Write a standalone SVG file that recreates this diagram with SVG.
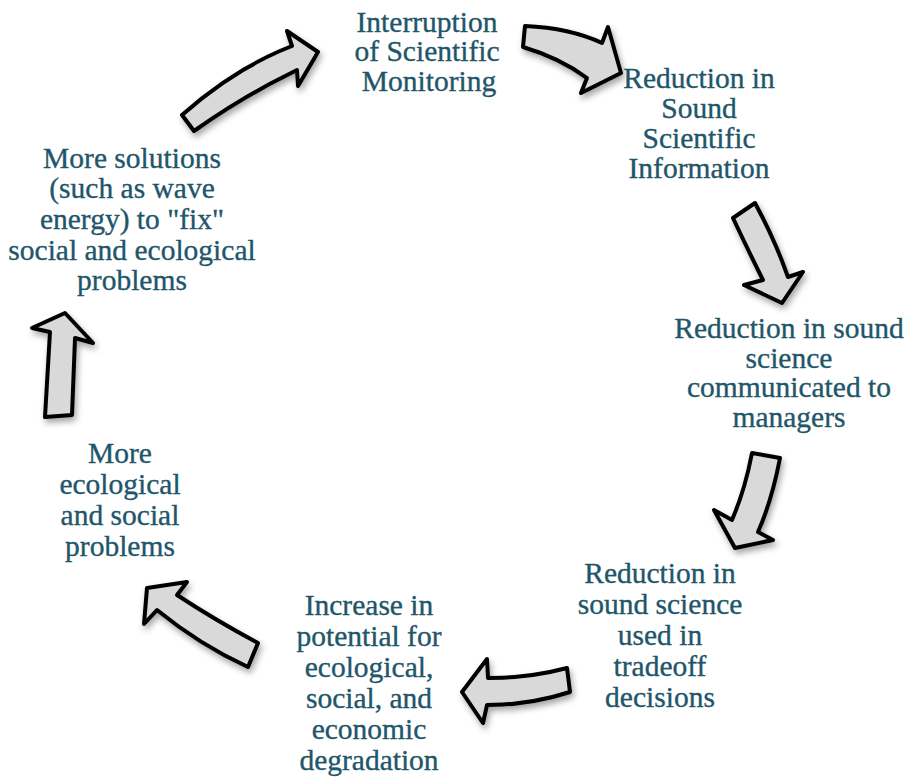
<svg xmlns="http://www.w3.org/2000/svg" width="909" height="779" viewBox="0 0 909 779">
<defs>
<filter id="sh" x="-30%" y="-30%" width="160%" height="160%">
<feDropShadow dx="2" dy="4" stdDeviation="3" flood-color="#000" flood-opacity="0.35"/>
</filter>
</defs>
<style>
.lbl{font-size:29.5px;fill:#1f566a;stroke:#1f566a;stroke-width:0.35;text-anchor:middle}
.arr{fill:#d9d9d9;stroke:#000;stroke-width:4;stroke-linejoin:round;filter:url(#sh)}
</style>
<rect width="909" height="779" fill="#fff"/>
<g id="connectors">
<path class="arr" d="M182,115 Q235,68 292,46 L287,31 L318,52 L298,86 L297,70 Q245,95 194,131 Z"/>
<path class="arr" d="M525,26 Q570,28 602,43 L608,27 L621,73 L581,93 L587,78 Q560,58 523,47 Z"/>
<path class="arr" d="M733,218 L755,203 Q775,240 788,277 L803,272 L782,303 L744,285 L763,280 Q748,250 733,218 Z"/>
<path class="arr" d="M752,453 L780,458 Q772,500 758,532 L773,540 L735,548 L714,510 L732,520 Q745,490 752,453 Z"/>
<path class="arr" d="M567,668 Q530,678 488,678 L487,659 L462,692 L483,723 L487,705 Q530,705 570,692 Z"/>
<path class="arr" d="M258,643 Q215,620 177,595 L187,582 L147,588 L144,624 L157,610 Q200,645 248,667 Z"/>
<path class="arr" d="M45,417 L50,332 L32,328 L65,313 L93,343 L75,338 L72,415 Z"/>
</g>
<g font-family="'Liberation Serif', 'DejaVu Serif', serif">
<g id="n1"><text class="lbl" x="427" y="32">Interruption</text><text class="lbl" x="427" y="61">of Scientific</text><text class="lbl" x="429" y="91">Monitoring</text></g>
<g id="n2"><text class="lbl" x="699" y="88">Reduction in</text><text class="lbl" x="699" y="118">Sound</text><text class="lbl" x="699" y="148">Scientific</text><text class="lbl" x="699" y="178">Information</text></g>
<g id="n3"><text class="lbl" x="789" y="338">Reduction in sound</text><text class="lbl" x="789" y="368">science</text><text class="lbl" x="789" y="397">communicated to</text><text class="lbl" x="789" y="427">managers</text></g>
<g id="n4"><text class="lbl" x="660" y="583">Reduction in</text><text class="lbl" x="660" y="614">sound science</text><text class="lbl" x="660" y="645">used in</text><text class="lbl" x="660" y="676">tradeoff</text><text class="lbl" x="660" y="707">decisions</text></g>
<g id="n5"><text class="lbl" x="369" y="615">Increase in</text><text class="lbl" x="369" y="646">potential for</text><text class="lbl" x="369" y="677">ecological,</text><text class="lbl" x="369" y="708">social, and</text><text class="lbl" x="369" y="739">economic</text><text class="lbl" x="369" y="770">degradation</text></g>
<g id="n6"><text class="lbl" x="120" y="463">More</text><text class="lbl" x="120" y="494">ecological</text><text class="lbl" x="120" y="525">and social</text><text class="lbl" x="120" y="556">problems</text></g>
<g id="n7"><text class="lbl" x="132" y="168">More solutions</text><text class="lbl" x="132" y="198">(such as wave</text><text class="lbl" x="132" y="229">energy) to "fix"</text><text class="lbl" x="132" y="260">social and ecological</text><text class="lbl" x="132" y="290">problems</text></g>
</g>
</svg>
